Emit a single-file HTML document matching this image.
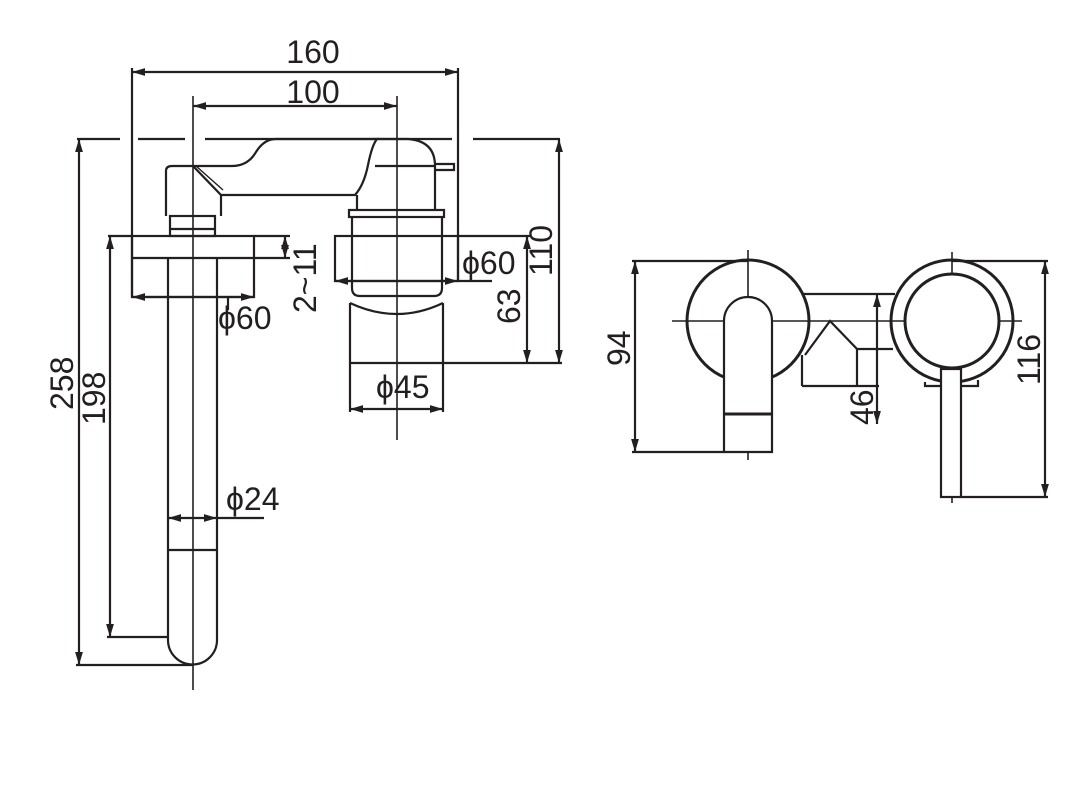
<!DOCTYPE html>
<html><head><meta charset="utf-8"><style>
html,body{margin:0;padding:0;background:#fff;}
svg{display:block}
text{font-family:"Liberation Sans",sans-serif;font-size:32px;fill:#231f20;}
</style></head><body>
<svg width="1088" height="790" viewBox="0 0 1088 790" xmlns="http://www.w3.org/2000/svg">
<defs>
<marker id="a" viewBox="0 0 10 10" refX="10" refY="5" markerWidth="6" markerHeight="6" orient="auto-start-reverse"><path d="M0,2 L10,5 L0,8 z" fill="#231f20"/></marker>
</defs>
<g stroke="#231f20" fill="none" stroke-width="2.2">
<path d="M77 139H120 M138 139H185 M205 139H452 M473 139H560"/>
<line x1="132" y1="72" x2="458" y2="72" marker-start="url(#a)" marker-end="url(#a)"/>
<line x1="132" y1="68" x2="132" y2="297"/>
<line x1="458" y1="68" x2="458" y2="281"/>
<line x1="193" y1="106" x2="397" y2="106" marker-start="url(#a)" marker-end="url(#a)"/>
<line x1="193" y1="96" x2="193" y2="690" stroke-width="1.6"/>
<line x1="397" y1="96" x2="397" y2="440" stroke-width="1.6"/>
<line x1="79" y1="139" x2="79" y2="665" marker-start="url(#a)" marker-end="url(#a)"/>
<line x1="76" y1="665" x2="193" y2="665"/>
<line x1="110" y1="236" x2="110" y2="637" marker-start="url(#a)" marker-end="url(#a)"/>
<line x1="107" y1="637" x2="168" y2="637"/>
<line x1="108" y1="236" x2="132" y2="236"/>
<rect x="132" y="236" width="122" height="61"/>
<line x1="132" y1="258" x2="254" y2="258"/>
<line x1="254" y1="236" x2="290" y2="236"/>
<line x1="254" y1="258" x2="290" y2="258"/>
<line x1="285" y1="236" x2="285" y2="258" marker-start="url(#a)" marker-end="url(#a)"/>
<line x1="132" y1="297" x2="254" y2="297" marker-start="url(#a)" marker-end="url(#a)"/>
<line x1="228" y1="297" x2="228" y2="310"/>
<path d="M168 258 V640 A24.5 24.5 0 0 0 217 640 V258"/>
<line x1="168" y1="518" x2="217" y2="518" marker-start="url(#a)" marker-end="url(#a)"/>
<line x1="217" y1="518" x2="264" y2="518"/>
<line x1="168" y1="550" x2="217" y2="550"/>
<rect x="170" y="216" width="45" height="20"/>
<line x1="170" y1="229" x2="215" y2="229"/>
<path d="M166 216 V171 Q166 166 172 166 H232 Q248 166 256 152 Q264 139 276 139 H377 Q372 145 368 165 Q364 185 355 195 H221 L193 166"/>
<path d="M221 216 V195"/>
<path d="M196 166 L223 190" stroke-width="1.4"/>
<path d="M377 139 H408 Q435 141 435 166 V211"/>
<path d="M375 166 H435 M435 164 H454 V170 H435"/>
<path d="M357 195 V211"/>
<rect x="349" y="210" width="95" height="7"/>
<path d="M352 217 V288 Q352 296 360 296 H434 Q442 296 442 288 V217"/>
<rect x="335" y="236" width="123" height="45"/>
<line x1="335" y1="281" x2="458" y2="281" marker-start="url(#a)" marker-end="url(#a)"/>
<line x1="458" y1="281" x2="492" y2="281"/>
<path d="M350 303 Q397 325 443 303 M350 303 V363 M443 303 V363"/>
<line x1="350" y1="363" x2="562" y2="363"/>
<line x1="350" y1="363" x2="350" y2="412"/>
<line x1="443" y1="363" x2="443" y2="412"/>
<line x1="350" y1="409" x2="443" y2="409" marker-start="url(#a)" marker-end="url(#a)"/>
<line x1="458" y1="236" x2="530" y2="236"/>
<line x1="527" y1="236" x2="527" y2="363" marker-start="url(#a)" marker-end="url(#a)"/>
<line x1="559" y1="139" x2="559" y2="363" marker-start="url(#a)" marker-end="url(#a)"/>
<line x1="672" y1="321" x2="1022" y2="321" stroke-width="1.6"/>
<line x1="748" y1="250" x2="748" y2="460" stroke-width="1.6"/>
<line x1="952" y1="252" x2="952" y2="503" stroke-width="1.6"/>
<circle cx="748" cy="321" r="61" stroke-width="3"/>
<path d="M724 452 V321 A24 24 0 0 1 772 321 V452 Z" fill="#fff"/>
<line x1="724" y1="414" x2="772" y2="414" stroke-width="3"/>
<line x1="632" y1="261" x2="748" y2="261"/>
<line x1="632" y1="452" x2="724" y2="452"/>
<line x1="635" y1="261" x2="635" y2="452" marker-start="url(#a)" marker-end="url(#a)"/>
<path d="M802 294 H895 M802 386 H879 M802 355 V386 M857 349 V386 M857 349 L830 321 L805 355 M857 349 H893"/>
<line x1="877" y1="294" x2="877" y2="424" marker-start="url(#a)" marker-end="url(#a)"/>
<circle cx="952" cy="321" r="61" stroke-width="3"/>
<circle cx="952" cy="321" r="47" stroke-width="3" fill="#fff"/>
<rect x="941" y="369" width="20" height="128" fill="#fff"/>
<path d="M925 382 V386 H941 M961 386 H978 V380"/>
<line x1="952" y1="261" x2="1048" y2="261"/>
<line x1="961" y1="497" x2="1048" y2="497"/>
<line x1="1045" y1="261" x2="1045" y2="497" marker-start="url(#a)" marker-end="url(#a)"/>
</g>
<text x="313" y="63" text-anchor="middle">160</text>
<text x="313" y="103" text-anchor="middle">100</text>
<text x="218" y="329">ϕ60</text>
<text x="462" y="274">ϕ60</text>
<text x="376" y="398">ϕ45</text>
<text x="226" y="510">ϕ24</text>
<text transform="translate(316,313) rotate(-90)">2~11</text>
<text transform="translate(520,324) rotate(-90)">63</text>
<text transform="translate(552,276) rotate(-90)">110</text>
<text transform="translate(73,410) rotate(-90)">258</text>
<text transform="translate(105,425) rotate(-90)">198</text>
<text transform="translate(630,366) rotate(-90)">94</text>
<text transform="translate(873,425) rotate(-90)">46</text>
<text transform="translate(1040,385) rotate(-90)">116</text>
</svg>
</body></html>
